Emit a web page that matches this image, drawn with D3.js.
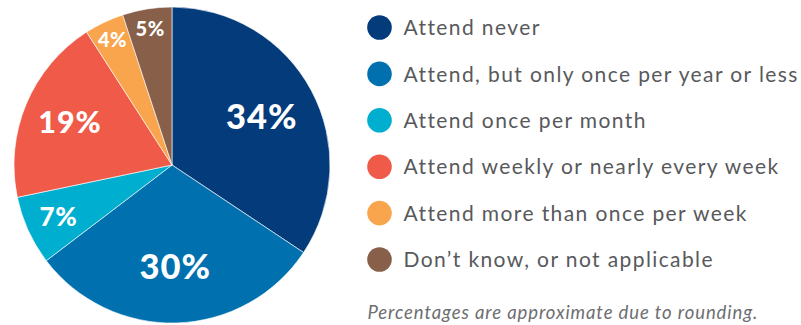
<!DOCTYPE html>
<html>
<head>
<meta charset="utf-8">
<script src="https://cdn.jsdelivr.net/npm/d3@7"></script>
<style>
  html, body { margin: 0; padding: 0; background: #ffffff; }
  svg { display: block; }
</style>
</head>
<body>
<svg id="chart" width="801" height="325"></svg>
<script>
// Religious service attendance shares (percent, rounded)
const categories = [
  "Attend never",
  "Attend, but only once per year or less",
  "Attend once per month",
  "Attend weekly or nearly every week",
  "Attend more than once per week",
  "Don\u2019t know, or not applicable"
];
const shares = [34, 30, 7, 19, 4, 5];
const sliceColors = ["#033b7b", "#0071ae", "#00afd0", "#f05a48", "#f9a54e", "#88604a"];
const footnote = "Percentages are approximate due to rounding.";

const svg = d3.select("#chart");
const cx = 172, cy = 165, R = 158;

const data = categories.map((c, i) => ({ category: c, value: shares[i], color: sliceColors[i] }));

const pie = d3.pie().sort(null).value(d => d.value);
const arc = d3.arc().innerRadius(0).outerRadius(R);
const arcs = pie(data);

const g = svg.append("g").attr("transform", `translate(${cx},${cy})`);

g.selectAll("path.slice")
  .data(arcs)
  .join("path")
  .attr("class", "slice")
  .attr("d", arc)
  .attr("fill", d => d.data.color)
  .attr("stroke", "#ffffff")
  .attr("stroke-width", 0.6);

// Small slices get their labels pushed outward and set smaller
const labelRadius = d3.scaleLinear().domain([5, 7, 19, 30]).range([0.875, 0.79, 0.70, 0.645]).clamp(true);
const labelSize = d3.scaleLinear().domain([5, 7, 19, 30]).range([20, 26, 30.5, 34.5]).clamp(true);

g.selectAll("text.pct")
  .data(arcs)
  .join("text")
  .attr("class", "pct")
  .each(function (d) {
    const r = R * labelRadius(d.data.value);
    const a = (d.startAngle + d.endAngle) / 2;
    const fs = labelSize(d.data.value);
    d3.select(this)
      .attr("x", r * Math.sin(a))
      .attr("y", -r * Math.cos(a) + fs * 0.36)
      .attr("font-size", fs)
      .attr("letter-spacing", fs * 0.03);
  })
  .attr("text-anchor", "middle")
  .attr("font-family", "Lato, 'Open Sans', sans-serif")
  .attr("font-weight", 900)
  .attr("fill", "#ffffff")
  .text(d => d.data.value + "%");

// Legend
const legendX = 379.5, legendY0 = 27.5, legendStep = 46.4;
const legend = svg.append("g")
  .selectAll("g")
  .data(data)
  .join("g")
  .attr("transform", (d, i) => `translate(${legendX},${legendY0 + i * legendStep})`);

legend.append("circle")
  .attr("r", 12.3)
  .attr("fill", d => d.color);

legend.append("text")
  .attr("x", 24)
  .attr("y", 7.6)
  .attr("font-family", "Lato, 'Open Sans', sans-serif")
  .attr("font-size", 21)
  .attr("letter-spacing", 1.4)
  .attr("fill", "#58595b")
  .text(d => d.category);

svg.append("text")
  .attr("x", 367.5)
  .attr("y", 319.3)
  .attr("font-family", "Lato, 'Open Sans', sans-serif")
  .attr("font-style", "italic")
  .attr("font-size", 18.5)
  .attr("letter-spacing", 0.9)
  .attr("fill", "#6d6e71")
  .text(footnote);
</script>
</body>
</html>
